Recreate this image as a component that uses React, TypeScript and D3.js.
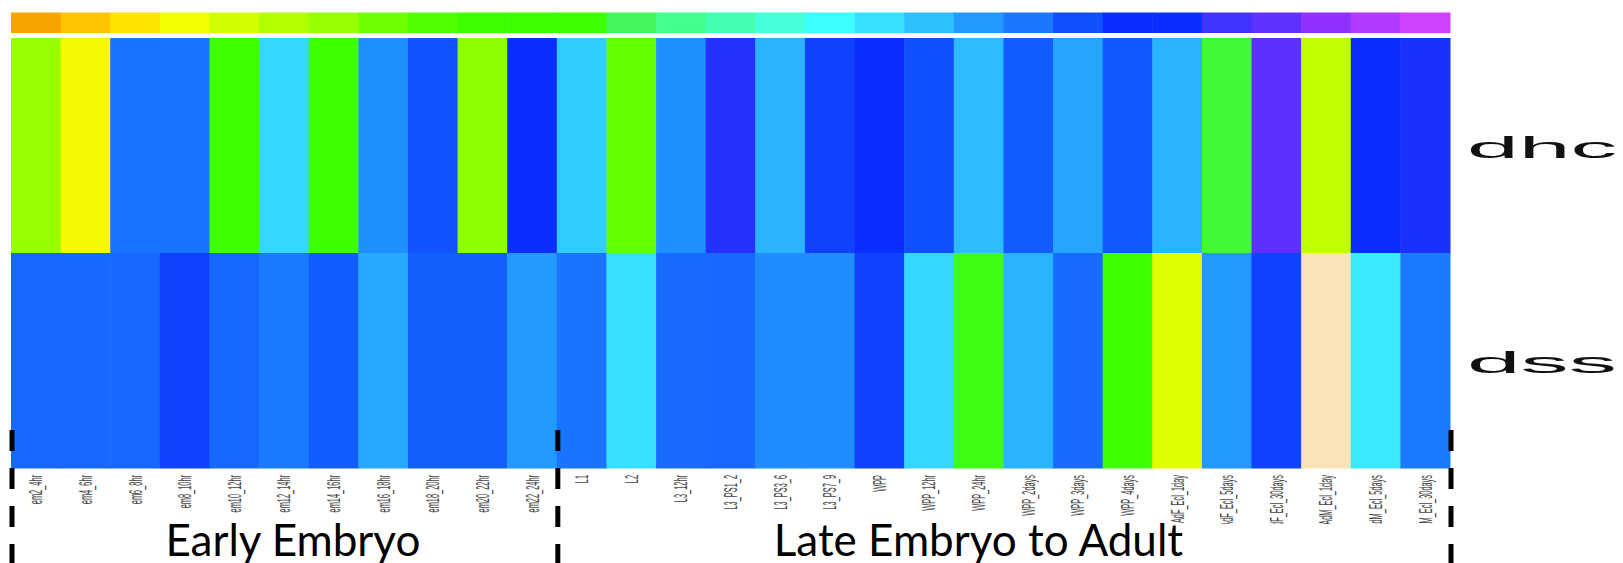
import { useEffect, useRef } from "react";
import * as d3 from "d3";

// stages (columns) of the heatmap
const stages = [
  "em2_4hr", "em4_6hr", "em6_8hr", "em8_10hr", "em10_12hr", "em12_14hr",
  "em14_16hr", "em16_18hr", "em18_20hr", "em20_22hr", "em22_24hr",
  "L1", "L2", "L3_12hr", "L3_PS1_2", "L3_PS3_6", "L3_PS7_9", "WPP",
  "WPP_12hr", "WPP_24hr", "WPP_2days", "WPP_3days", "WPP_4days",
  "AdF_Ecl_1day", "AdF_Ecl_5days", "AdF_Ecl_30days",
  "AdM_Ecl_1day", "AdM_Ecl_5days", "AdM_Ecl_30days",
];

const genes = ["dhc", "dss"];

// level on the colour key (0 = orange end, 28 = magenta end), null = no data
const dhcLevels = [
  6, 2.8, 20.1, 20.1, 10, 17.3, 10, 19.3, 20.9, 6.3, 22,
  17.6, 7.5, 19.3, 23.5, 18.3, 21.4, 22, 21, 18.1, 20.7, 18.7, 20.8,
  18.3, 11.6, 24.9, 4.6, 22, 23.3,
];
const dssLevels = [
  20.4, 20.4, 20.4, 21.4, 20.4, 19.9, 20.7, 18.6, 20.6, 20.6, 19,
  20.1, 17, 20.3, 20.4, 19.4, 19.4, 21.4, 17.3, 11.2, 18.3, 20.3, 10,
  3.6, 19, 21.4, null, 16.7, 19.9,
];

// colour key shown on top
const keyColors = [
  "#f8a400", "#ffc400", "#ffe400", "#f2ff00", "#d2ff00", "#b2ff00", "#98ff00",
  "#72ff00", "#52ff00", "#3cff00", "#3cff00", "#3cff00", "#44f55c", "#44ff8e",
  "#44ffb2", "#44ffd8", "#3cffff", "#38e0ff", "#2ec0ff", "#2299ff", "#1a78ff",
  "#1050ff", "#0a2eff", "#0a2eff", "#4033ff", "#6030ff", "#9030ff", "#b03cff",
  "#d040ff",
];
const missingColor = "#f8e4b8";

const groups = [
  { name: "Early Embryo", from: "em2_4hr", to: "em22_24hr", dx: 9 },
  { name: "Late Embryo to Adult", from: "L1", to: "AdM_Ecl_30days", dx: -25 },
];

const W = 1623;
const H = 563;

const buildHeatmap = (svgEl: SVGSVGElement) => {
  const svg = d3.select(svgEl);
  svg.selectAll("*").remove();

  const x = d3.scaleBand().domain(stages).range([11, 1450]).padding(0);
  const y = d3.scaleBand().domain(genes).range([38, 468]).padding(0);
  const keyX = d3.scaleBand<number>().domain(d3.range(keyColors.length)).range([11, 1450]);
  const color = d3.scaleLinear<string>()
    .domain(d3.range(keyColors.length))
    .range(keyColors);

  // colour key
  svg.append("g")
    .selectAll("rect")
    .data(keyColors)
    .join("rect")
    .attr("x", (_, i) => keyX(i)!)
    .attr("y", 12.5)
    .attr("width", keyX.bandwidth() + 0.5)
    .attr("height", 20.5)
    .attr("fill", (d) => d);

  const cells = genes.flatMap((g, gi) =>
    (gi === 0 ? dhcLevels : dssLevels).map((v, i) => ({ gene: g, stage: stages[i], v }))
  );

  svg.append("g")
    .selectAll("rect")
    .data(cells)
    .join("rect")
    .attr("x", (d) => x(d.stage)!)
    .attr("y", (d) => y(d.gene)!)
    .attr("width", x.bandwidth() + 0.5)
    .attr("height", y.bandwidth() + 0.5)
    .attr("fill", (d) => (d.v === null ? missingColor : color(d.v)));

  // gene names, stretched like the source image
  svg.append("g")
    .selectAll("text")
    .data(genes)
    .join("text")
    .attr("x", x.range()[1] + 17)
    .attr("y", (d) => y(d)! + y.bandwidth() / 2 + 12)
    .attr("font-family", "Liberation Sans, Arial, sans-serif")
    .attr("font-size", 29)
    .attr("textLength", 150)
    .attr("lengthAdjust", "spacingAndGlyphs")
    .attr("fill", "#111")
    .text((d) => d);

  // stage tick labels
  svg.append("g")
    .selectAll("text")
    .data(stages)
    .join("text")
    .attr("transform", (d) => `translate(${x(d)! + x.bandwidth() / 2},475) scale(2.5,1) rotate(-90)`)
    .attr("dy", "0.35em")
    .attr("text-anchor", "end")
    .attr("font-family", "Liberation Sans, Arial, sans-serif")
    .attr("font-size", 7.4)
    .attr("fill", "#444")
    .text((d) => d);

  // annotation box covers the ends of the long labels
  svg.append("rect")
    .attr("x", x.range()[0])
    .attr("y", 524)
    .attr("width", x.range()[1] - x.range()[0])
    .attr("height", H - 524)
    .attr("fill", "#fff");

  svg.append("g")
    .selectAll("text")
    .data(groups)
    .join("text")
    .attr("x", (g) => (x(g.from)! + x(g.to)! + x.bandwidth()) / 2 + g.dx)
    .attr("y", 556)
    .attr("text-anchor", "middle")
    .attr("font-family", "Lato, 'Open Sans', sans-serif")
    .attr("font-size", 44)
    .attr("fill", "#000")
    .text((g) => g.name);

  // dashed group separators
  const bounds = [x(stages[0])!, x("L1")!, x.range()[1]];
  svg.append("g")
    .selectAll("line")
    .data(bounds)
    .join("line")
    .attr("x1", (d) => d + 1)
    .attr("x2", (d) => d + 1)
    .attr("y1", 430)
    .attr("y2", H)
    .attr("stroke", "#000")
    .attr("stroke-width", 5)
    .attr("stroke-dasharray", "21 17");
};

const App = () => {
  const ref = useRef<SVGSVGElement>(null);

  useEffect(() => {
    if (ref.current) buildHeatmap(ref.current);
  }, []);

  return (
    <svg
      ref={ref}
      width={W}
      height={H}
      style={{ position: "absolute", left: 0, top: 0, background: "#fff" }}
    />
  );
};

export default App;
